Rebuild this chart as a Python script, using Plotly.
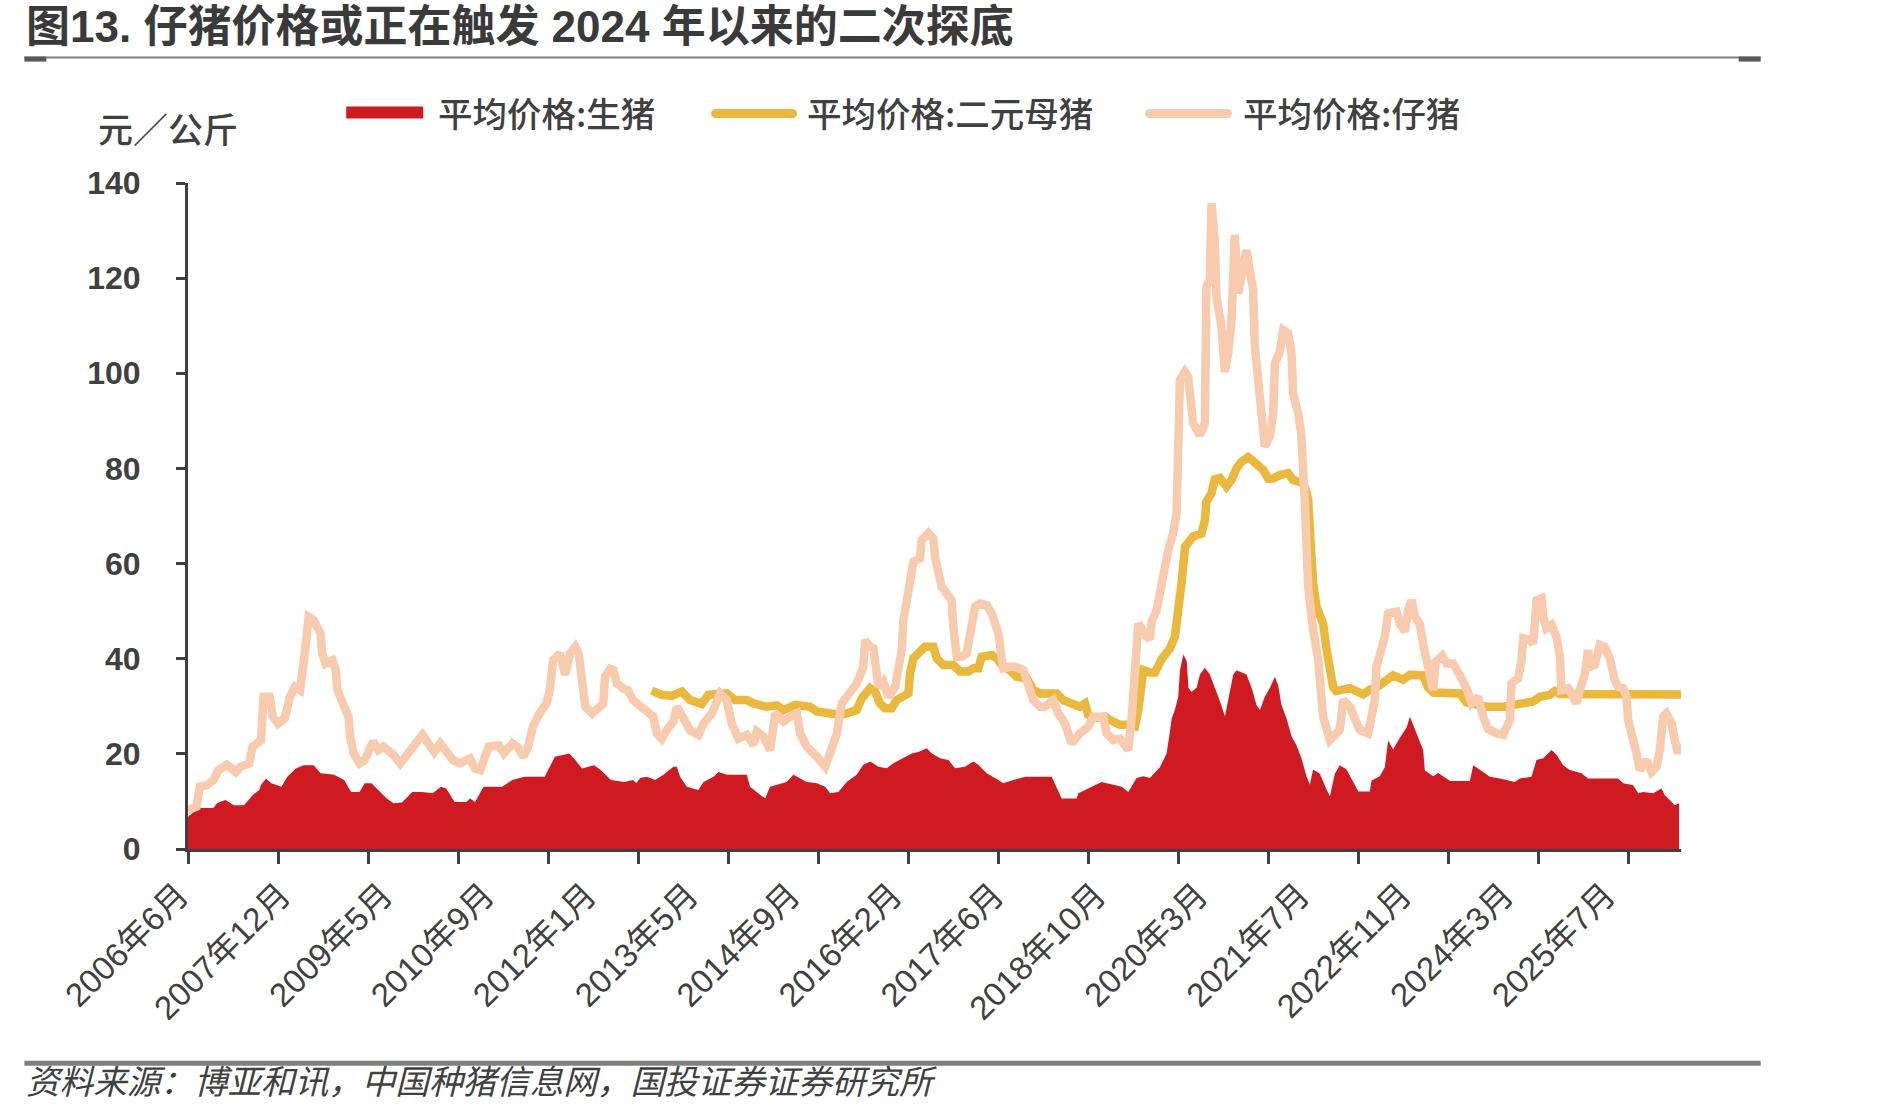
import plotly.graph_objects as go

# ---------------- data (x = position on the reference's category axis, 0 = 2006年6月, 60 units per label step) ----------------
x_labels = ["2006年6月", "2007年12月", "2009年5月", "2010年9月", "2012年1月", "2013年5月",
            "2014年9月", "2016年2月", "2017年6月", "2018年10月", "2020年3月", "2021年7月",
            "2022年11月", "2024年3月", "2025年7月"]
label_pos = [i * 60 for i in range(15)]
tick_pos = [i * 53 for i in range(17)]
x_max = 879

# 平均价格:生猪 (元/公斤)
hog_points = [
    (0, 6.8), (3.5, 7.8), (7, 8.6), (15, 8.6), (17, 9.6), (22, 10.3), (27, 9.2), (33, 9.2), (38, 11.3),
    (42, 12.4), (43, 13.5), (46, 14.8), (49, 13.8), (55, 13.1), (58.5, 15.2), (63.5, 16.9), (68, 17.6),
    (74, 17.6), (78, 15.9), (86, 15.6), (92, 14.5), (96, 12.0), (101, 12.0), (104, 13.8), (108, 13.8),
    (113, 12.0), (117, 10.6), (121, 9.6), (126, 9.8), (132, 12.0), (138, 12.0), (144, 11.7), (149, 13.1),
    (152, 12.7), (157, 9.9), (164, 9.9), (166, 10.6), (169, 9.9), (174, 13.1), (185, 13.1), (191, 14.5),
    (198, 15.2), (210, 15.2), (216, 19.4), (224.5, 20.1), (228, 18.7), (232, 16.9), (239, 17.6),
    (243, 16.6), (249, 14.5), (257, 14.1), (262, 14.5), (264, 13.8), (266.2, 14.9), (270.1, 15.2),
    (275, 14.5), (279.9, 15.6), (285.8, 17.3), (287.8, 17.3), (289.7, 15.2), (293.7, 13.1), (300.5, 12.4),
    (303.5, 14.1), (309.4, 15.2), (312.3, 16.2), (317.2, 15.6), (329, 15.6), (330.9, 13.1), (334.9, 12.0),
    (339.8, 10.6), (342.7, 13.1), (346.6, 13.5), (352.5, 14.1), (356.4, 15.6), (364.3, 14.1), (370.2, 13.8),
    (375.1, 13.1), (378, 11.7), (382.9, 12.0), (387.8, 14.1), (393.7, 15.6), (397.6, 17.7), (401.6, 18.4),
    (406.5, 17.3), (411.4, 17.0), (415.3, 18.0), (421.2, 19.1), (426.1, 20.1), (430, 20.4), (434.9, 21.2),
    (437.9, 20.1), (442.8, 19.1), (447.7, 18.7), (451.6, 17.0), (457.5, 17.3), (462.4, 18.4), (465.3, 17.7),
    (470.2, 15.9), (477.1, 14.5), (480, 13.8), (485.9, 14.5), (492.8, 15.2), (508.5, 15.2), (511.4, 13.1),
    (514.4, 10.6), (523.2, 10.6), (524.2, 11.7), (530, 12.7), (537.9, 14.1), (544.8, 13.5), (549.7, 13.1),
    (553.6, 12.0), (557.5, 14.1), (558.5, 14.9), (562.4, 15.3), (566.3, 14.9), (572.2, 17.2), (576.1, 20.0),
    (578.1, 24.6), (579.1, 27.4), (581, 29.2), (583, 32.0), (584, 37.6), (586, 40.9), (588, 39.5),
    (589, 33.9), (590.8, 33.0), (593.8, 33.9), (595.8, 36.7), (598.7, 38.1), (601.6, 36.7), (604.6, 33.9),
    (607.5, 31.1), (610.5, 27.9), (612.4, 31.1), (615.4, 36.7), (617.3, 37.6), (623.2, 36.7), (626.2, 33.9),
    (629.1, 30.2), (631.1, 29.2), (634, 32.0), (637, 33.9), (639.9, 36.2), (641.9, 34.3), (643.8, 30.2),
    (646.8, 27.4), (649.7, 23.7), (652.6, 21.8), (655.6, 19.0), (658.5, 15.3), (660.5, 13.5), (662.4, 16.7),
    (666.4, 15.8), (670.3, 12.5), (672.3, 11.1), (675.2, 15.8), (678.1, 17.6), (682.1, 16.7), (686, 13.9),
    (689, 12.1), (695.8, 12.1), (696.8, 14.4), (701.7, 15.3), (704.6, 17.2), (706.6, 22.8), (709.5, 20.9),
    (713.5, 23.4), (717.4, 25.5), (719.4, 27.8), (722.3, 25.3), (725.3, 22.5), (727.2, 20.8), (728.2, 16.5),
    (733.1, 15.3), (736.1, 16.0), (743, 14.3), (754.7, 14.3), (756.7, 17.6), (761.6, 16.4), (766.5, 15.2),
    (772.4, 14.8), (776.3, 14.5), (781.2, 14.1), (784.1, 14.8), (791, 15.2), (793.9, 18.7), (797.9, 19.1),
    (802.8, 20.8), (805.7, 19.8), (809.6, 17.6), (813.5, 16.6), (820.4, 15.9), (824.3, 14.8), (842, 14.8),
    (845, 13.8), (850.8, 13.4), (853.8, 11.7), (856.7, 12.0), (862.6, 11.7), (867.5, 12.7), (869.5, 11.3),
    (872.4, 10.3), (875.3, 9.2), (877.9, 9.6),
]

# 平均价格:二元母猪 (元/公斤)
sow_points = [
    (273, 33.3), (278.9, 32.4), (284.8, 32.2), (290.7, 33.1), (295.6, 31.3), (302.5, 30.5), (306.4, 32.4),
    (317.2, 32.7), (322.1, 31.3), (329, 31.3), (332.9, 30.6), (340.7, 29.9), (346.6, 30.2), (350.6, 29.2),
    (357.4, 30.3), (366.2, 29.9), (370.2, 28.9), (378, 28.5), (383.9, 28.2), (387.8, 28.5), (393.7, 29.2),
    (396.7, 31.7), (401.6, 33.8), (404.5, 33.1), (407.4, 30.6), (410.4, 29.6), (414.3, 29.6), (417.2, 31.3),
    (421.2, 32.4), (424.1, 32.7), (425.1, 36.9), (427.1, 40.1), (431, 41.5), (433.9, 42.5), (438.8, 42.5),
    (440.8, 40.1), (444.7, 38.7), (450.6, 38.7), (454.5, 37.3), (459.4, 37.3), (462.4, 38.0), (465.3, 38.0),
    (467.3, 40.4), (473.2, 40.8), (476.1, 40.1), (480, 38.3), (483.9, 37.6), (487.9, 36.2), (493.8, 35.9),
    (497.7, 33.4), (501.6, 32.7), (511.4, 32.7), (515.3, 31.3), (519.3, 30.6), (525.1, 29.9), (528.1, 30.6),
    (530, 28.2), (533, 27.5), (539.9, 27.8), (542.8, 27.1), (548.7, 26.1), (552.6, 26.1), (557.5, 25.8),
    (559.5, 29.2), (562.4, 37.6), (566.3, 37.1), (569.3, 37.1), (573.2, 39.9), (578.1, 42.2), (581, 44.6),
    (583, 49.0), (585, 56.0), (587, 63.5), (591.8, 65.7), (596.7, 66.3), (598.7, 69.1), (599.6, 73.0),
    (602.6, 74.8), (604.5, 77.7), (607.5, 78.0), (611.4, 76.2), (614.4, 77.6), (617.3, 80.0), (620.2, 81.4),
    (624.2, 82.4), (628.1, 81.4), (633, 79.7), (635.9, 77.9), (638.9, 77.9), (642.8, 78.6), (647.7, 79.0),
    (650.6, 77.6), (656.5, 76.9), (658.5, 75.0), (659.5, 73.4), (660.5, 67.0), (661.5, 60.0), (662.4, 56.0),
    (664.4, 50.9), (668.3, 47.4), (670.3, 42.0), (672.3, 38.8), (674.2, 34.0), (676, 33.2), (684, 33.8),
    (691.9, 32.5), (695.8, 33.5), (700, 34.0), (705.6, 35.8), (709.5, 36.5), (715.4, 35.6), (719.3, 36.6),
    (727.2, 36.5), (730.1, 34.0), (733.1, 32.9), (740.9, 32.9), (748.8, 32.7), (752.7, 30.8), (758.6, 30.3),
    (764.5, 29.9), (774.3, 29.9), (780.2, 30.3), (786.1, 31.0), (792, 31.0), (795.9, 32.0), (801.8, 32.4),
    (804.7, 33.2), (807.7, 32.6), (879, 32.5),
]

# 平均价格:仔猪 (元/公斤)
piglet_points = [
    (0, 8.2), (5, 8.9), (7, 13.1), (11, 13.4), (15, 14.5), (18, 16.6), (23, 17.7), (28, 16.2), (31, 17.3),
    (36, 18.0), (38, 21.5), (43, 22.9), (44.5, 32.0), (48, 32.0), (50, 27.8), (53, 26.4), (57, 27.5),
    (60, 32.0), (63, 34.1), (66, 33.4), (69, 41.8), (71, 48.8), (74, 48.1), (76, 46.7), (78, 45.3),
    (79, 41.1), (81, 39.0), (85, 39.7), (87, 37.6), (88, 33.4), (92, 29.9), (94.5, 27.8), (95.5, 23.6),
    (97.5, 20.1), (101, 18.0), (104, 18.7), (109, 22.6), (112, 20.8), (115, 21.5), (121, 19.8), (125, 18.0),
    (131, 20.4), (135, 22.6), (138, 24.0), (141, 22.2), (145, 20.4), (148.5, 22.2), (152, 20.8), (156, 18.7),
    (160, 18.0), (166, 19.0), (169, 16.9), (172, 16.6), (177, 21.5), (183, 21.8), (186, 20.1), (191, 22.2),
    (194, 21.5), (197.5, 19.4), (200, 21.2), (203, 25.7), (207, 28.5), (211, 30.6), (213, 33.4), (215, 39.7),
    (219, 41.1), (222, 36.6), (225, 41.1), (228, 42.5), (230, 41.1), (232, 33.4), (234, 29.9), (238, 28.5),
    (244.5, 30.6), (245.5, 36.2), (248.5, 37.9), (250.5, 37.6), (252.5, 34.8), (256.5, 33.7), (259, 33.4),
    (262, 31.3), (266.2, 29.9), (270.1, 29.2), (274, 27.8), (276, 24.3), (278.9, 23.2), (281.9, 25.0),
    (285.8, 26.8), (287.8, 29.9), (291.7, 27.8), (295.6, 25.0), (300.5, 24.0), (303.5, 26.4), (308.4, 28.5),
    (313.3, 32.7), (317.2, 31.3), (320.1, 26.4), (324.1, 23.2), (329, 24.0), (332.9, 21.9), (334.9, 24.7),
    (338.8, 23.6), (342.7, 20.8), (345.7, 28.5), (350.6, 26.8), (354.5, 27.8), (358.4, 28.5), (360.4, 24.3),
    (364.3, 21.5), (370.2, 19.4), (375.1, 17.3), (378, 20.1), (382, 24.3), (384.9, 30.6), (388.8, 32.7),
    (393.7, 34.8), (397.6, 38.3), (398.6, 43.9), (401.6, 42.5), (403.5, 42.2), (405.5, 36.9), (406.5, 34.1),
    (409.4, 35.2), (412.3, 32.0), (416.3, 34.1), (418.2, 38.3), (420.2, 41.8), (421.2, 48.1), (424.1, 55.5),
    (427.1, 60.4), (431, 61.1), (432, 65.0), (435.9, 66.4), (438.8, 65.3), (439.8, 61.4), (443.7, 55.1),
    (446.7, 53.7), (449.6, 52.3), (450.6, 46.7), (452.6, 40.4), (455.5, 40.4), (458.4, 41.1), (460.4, 45.0),
    (463.4, 50.9), (466.3, 51.6), (470.2, 51.3), (473.2, 49.5), (477.1, 45.3), (479, 40.4), (480, 38.0),
    (483.9, 38.3), (486.9, 38.3), (491.8, 37.6), (494.7, 34.1), (497.7, 31.3), (501.6, 29.9), (504.5, 29.9),
    (509.4, 31.3), (512.4, 28.5), (516.3, 26.4), (520.2, 22.2), (525.1, 24.3), (530, 25.7), (533, 27.8),
    (538.9, 27.8), (540.8, 24.3), (544.8, 22.9), (548.7, 23.2), (553.6, 20.8), (555.6, 27.8), (557.5, 38.3),
    (559.5, 47.4), (560.5, 46.9), (563.4, 45.0), (566.3, 44.1), (567.3, 47.8), (570.2, 50.1), (573.2, 56.7),
    (577.1, 62.8), (580, 66.3), (582, 70.6), (584, 98.6), (586.9, 100.3), (588.8, 99.3), (589.8, 94.4),
    (591.8, 89.5), (595.7, 87.0), (598.7, 89.5), (599.6, 118.2), (601.6, 119.6), (602.6, 135.7), (604.5, 128.0),
    (605.5, 116.1), (608.5, 109.8), (610.4, 100.3), (612.4, 104.2), (614.4, 111.2), (616.3, 129.1),
    (618.3, 116.8), (620.2, 119.6), (623.2, 125.9), (625.1, 121.7), (627.1, 117.5), (628.1, 105.6),
    (630, 97.2), (633, 88.8), (634, 84.6), (636.9, 86.7), (638.9, 91.6), (639.9, 102.1), (642.8, 104.5),
    (644.8, 109.1), (647.7, 108.4), (649.7, 104.2), (650.6, 95.8), (653.6, 91.6), (655.5, 87.0), (657.5, 73.0),
    (659.5, 55.0), (662.4, 46.0), (665.4, 39.7), (668.3, 27.8), (672.3, 22.9), (678.1, 25.0), (680.1, 31.3),
    (684, 29.9), (687, 27.8), (689.9, 25.0), (694.8, 24.3), (696.8, 27.8), (698.7, 31.3), (699.7, 38.3),
    (702.7, 41.8), (704.6, 44.6), (706.6, 49.5), (711.5, 49.9), (713.5, 47.4), (716.4, 45.7), (718.4, 50.5),
    (720.4, 52.3), (722.3, 49.0), (725.3, 47.2), (727.2, 43.0), (730.2, 37.5), (733.1, 33.4), (734.5, 39.3),
    (738.5, 40.6), (741, 39.0), (744.8, 39.0), (748.8, 36.5), (752.7, 33.8), (755.7, 30.6), (759.6, 32.0),
    (762.5, 27.8), (765.5, 25.2), (770.4, 24.3), (774.3, 24.0), (778.2, 27.1), (779.2, 34.8), (783.1, 35.9),
    (785.1, 39.7), (786.1, 44.3), (790, 43.9), (792, 43.2), (793, 47.4), (794, 52.3), (796.9, 52.7),
    (797.9, 48.8), (799.8, 46.4), (802.8, 47.1), (805.7, 44.6), (807.7, 40.4), (808.6, 33.4), (812.6, 33.8),
    (815.5, 32.0), (817.5, 30.6), (819.4, 33.4), (822.4, 36.9), (824.3, 41.8), (825.3, 38.3), (828.3, 38.7),
    (831.2, 42.9), (834.1, 42.5), (837.1, 40.1), (840, 35.5), (842, 34.1), (844.9, 33.8), (846.9, 32.0),
    (847.9, 27.1), (850.8, 23.6), (852.8, 20.1), (854.7, 16.6), (858.7, 18.7), (861.6, 16.2), (864.6, 17.3),
    (866.5, 20.8), (868.5, 27.8), (870.4, 28.5), (873.4, 26.4), (875.3, 22.9), (877.3, 20.1), (878.9, 22.2),
]

hog_t = [p[0] for p in hog_points]
hog = [p[1] for p in hog_points]
sow_t = [p[0] for p in sow_points]
sow = [p[1] for p in sow_points]
piglet_t = [p[0] for p in piglet_points]
piglet = [p[1] for p in piglet_points]

series_names = ["平均价格:生猪", "平均价格:二元母猪", "平均价格:仔猪"]
title_text = "图13. 仔猪价格或正在触发 2024 年以来的二次探底"
unit_text = "元／公斤"
source_text = "资料来源：博亚和讯，中国种猪信息网，国投证券证券研究所"

# ---------------- styling ----------------
FIG_W, FIG_H = 1889, 1113
L, R, T, B = 187.7, 1681.3, 182.5, 849.0


def px(X):
    return (X - L) / (R - L)


def py(Y):
    return (B - Y) / (B - T)


RED = "#CE1A20"
GOLD = "#E9B83D"
PEACH = "#F8CBAF"
TXT = "#404040"
CJK = "Noto Sans CJK SC"
LAT = "Liberation Sans, Noto Sans CJK SC"

fig = go.Figure()
fig.add_trace(go.Scatter(x=hog_t, y=hog, mode="lines", fill="tozeroy", fillcolor=RED,
                         line=dict(color=RED, width=0), name=series_names[0], hoverinfo="skip"))
fig.add_trace(go.Scatter(x=sow_t, y=sow, mode="lines", line=dict(color=GOLD, width=8.5),
                         name=series_names[1], hoverinfo="skip"))
fig.add_trace(go.Scatter(x=piglet_t, y=piglet, mode="lines", line=dict(color=PEACH, width=8.5),
                         name=series_names[2], hoverinfo="skip"))
# helper trace so that the label axis is drawn
fig.add_trace(go.Scatter(x=[0, x_max], y=[None, None], xaxis="x2", mode="lines",
                         showlegend=False, hoverinfo="skip"))

fig.update_layout(
    width=FIG_W, height=FIG_H,
    margin=dict(l=L, r=FIG_W - R, t=T, b=FIG_H - B, autoexpand=False),
    paper_bgcolor="white", plot_bgcolor="white", showlegend=False,
    xaxis=dict(range=[0, x_max], tickmode="array", tickvals=tick_pos, showticklabels=False,
               ticks="outside", ticklen=12, tickwidth=2.5, tickcolor=TXT,
               showline=True, linewidth=3, linecolor=TXT, showgrid=False, zeroline=False),
    xaxis2=dict(overlaying="x", anchor="y", side="bottom", range=[0, x_max], tickmode="array",
                tickvals=label_pos, ticktext=x_labels, tickangle=-45, ticks="",
                showline=False, showgrid=False, zeroline=False,
                tickfont=dict(family=LAT, size=33, color=TXT), ticklabelstandoff=19,
                ticklabelshift=-9),
    yaxis=dict(range=[0, 140], tickmode="linear", tick0=0, dtick=20, ticks="outside", ticklen=9,
               tickwidth=2.5, tickcolor=TXT, showline=True, linewidth=3, linecolor=TXT,
               showgrid=False, zeroline=False,
               tickfont=dict(family="Liberation Sans", size=32, color=TXT, weight="bold"),
               ticklabelstandoff=29),
)

shapes = []
# rule under the title, with short heavy caps
shapes.append(dict(type="line", xref="paper", yref="paper", x0=px(24), x1=px(1761), y0=py(57), y1=py(57),
                   line=dict(color="#7f7f7f", width=2)))
for a, b in [(24, 46), (1739, 1761)]:
    shapes.append(dict(type="rect", xref="paper", yref="paper", x0=px(a), x1=px(b), y0=py(61), y1=py(56),
                       fillcolor="#595959", line=dict(width=0)))
# rule above the source
shapes.append(dict(type="rect", xref="paper", yref="paper", x0=px(24), x1=px(1761), y0=py(1066), y1=py(1061),
                   fillcolor="#7f7f7f", line=dict(width=0)))
# legend keys
shapes.append(dict(type="rect", xref="paper", yref="paper", x0=px(346), x1=px(423), y0=py(118), y1=py(106),
                   fillcolor=RED, line=dict(width=0)))
for (xa, xb, col) in [(711, 797, GOLD), (1145, 1232, PEACH)]:
    r = 4.5
    cy = 113
    shapes.append(dict(type="rect", xref="paper", yref="paper", x0=px(xa + r), x1=px(xb - r),
                       y0=py(cy + r), y1=py(cy - r), fillcolor=col, line=dict(width=0)))
    for cx in (xa + r, xb - r):
        shapes.append(dict(type="circle", xref="paper", yref="paper", x0=px(cx - r), x1=px(cx + r),
                           y0=py(cy + r), y1=py(cy - r), fillcolor=col, line=dict(width=0)))
fig.update_layout(shapes=shapes)

ann = []
ann.append(dict(text=title_text, xref="paper", yref="paper", x=px(24), y=py(26), xanchor="left",
                yanchor="middle", showarrow=False,
                font=dict(family=LAT, size=44, color="#3a3a3a", weight="bold")))
ann.append(dict(text=unit_text, xref="paper", yref="paper", x=px(168), y=py(127), xanchor="center",
                yanchor="middle", showarrow=False, font=dict(family=CJK, size=35, color=TXT, weight=500)))
for txt, x0 in zip(series_names, [436, 805, 1241]):
    ann.append(dict(text=txt, xref="paper", yref="paper", x=px(x0), y=py(111), xanchor="left",
                    yanchor="middle", showarrow=False, font=dict(family=CJK, size=34.5, color=TXT, weight=500)))
ann.append(dict(text=source_text, xref="paper", yref="paper", x=px(24), y=py(1080), xanchor="left",
                yanchor="middle", showarrow=False,
                font=dict(family=CJK, size=33.6, color=TXT, style="italic")))
fig.update_layout(annotations=ann)

fig.write_html("out.html")
